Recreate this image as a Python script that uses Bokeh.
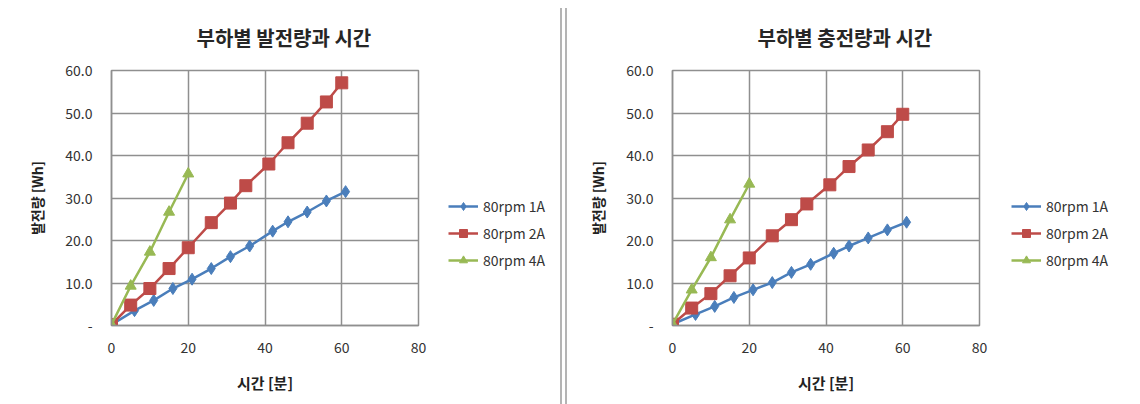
from bokeh.plotting import figure
from bokeh.models import (Range1d, FixedTicker, NumeralTickFormatter, Legend, LegendItem,
                          Title, Div)
from bokeh.layouts import row
from bokeh.embed import file_html
from bokeh.resources import INLINE

# ---------------- data ----------------
x_ticks = [0, 20, 40, 60, 80]
y_ticks = [0, 10, 20, 30, 40, 50, 60]
series_names = ["80rpm 1A", "80rpm 2A", "80rpm 4A"]

t_1a = [0, 6, 11, 16, 21, 26, 31, 36, 42, 46, 51, 56, 61]
t_2a = [0, 5, 10, 15, 20, 26, 31, 35, 41, 46, 51, 56, 60]
t_4a = [0, 5, 10, 15, 20]

gen_1a = [0.2, 3.5, 5.9, 8.7, 10.9, 13.4, 16.2, 18.7, 22.2, 24.4, 26.7, 29.3, 31.5]
gen_2a = [0.2, 4.8, 8.7, 13.4, 18.3, 24.2, 28.8, 32.9, 38.0, 43.0, 47.6, 52.6, 57.1]
gen_4a = [0.2, 9.3, 17.3, 26.7, 35.7]

chg_1a = [0.3, 2.6, 4.5, 6.6, 8.4, 10.1, 12.5, 14.4, 17.0, 18.7, 20.6, 22.5, 24.3]
chg_2a = [0.3, 4.1, 7.5, 11.7, 15.9, 21.1, 24.9, 28.6, 33.1, 37.4, 41.3, 45.6, 49.7]
chg_4a = [0.3, 8.4, 16.0, 24.9, 33.3]

title_left = "부하별 발전량과 시간"
title_right = "부하별 충전량과 시간"
x_label = "시간 [분]"
y_label = "발전량 [Wh]"

FONT = "Noto Sans CJK KR"
GRID = "#8f8f8f"
TXT = "#333333"
COLORS = ["#4a7ebb", "#be4b48", "#98b954"]
MARKERS = [("diamond", 12), ("square", 12), ("triangle", 11)]


def make_chart(title, ts, ys, width, bl, br):
    p = figure(width=width, height=404, output_backend="svg", toolbar_location=None,
               x_range=Range1d(0, 80), y_range=Range1d(0, 60),
               min_border_left=bl, min_border_right=br,
               min_border_top=70, min_border_bottom=79)
    p.background_fill_color = "white"
    p.border_fill_color = "white"
    p.outline_line_color = GRID
    p.outline_line_width = 1.5

    t = Title(text=title, align="left", offset=85, standoff=37,
              text_font=FONT, text_font_size="20px", text_font_style="bold",
              text_color="#262626")
    p.add_layout(t, "above")

    for ax in (p.xaxis[0], p.yaxis[0]):
        ax.axis_line_color = GRID
        ax.axis_line_width = 1.5
        ax.major_tick_line_color = None
        ax.minor_tick_line_color = None
        ax.major_tick_out = 0
        ax.major_tick_in = 0
        ax.major_label_text_font = FONT
        ax.major_label_text_font_size = "14px"
        ax.major_label_text_color = TXT
        ax.axis_label_text_font = FONT
        ax.axis_label_text_font_style = "bold"
        ax.axis_label_text_color = "#222222"
    p.xaxis.axis_label_text_font_size = "15px"
    p.yaxis.axis_label_text_font_size = "14px"

    p.xaxis.ticker = FixedTicker(ticks=x_ticks)
    p.yaxis.ticker = FixedTicker(ticks=y_ticks)
    p.yaxis.formatter = NumeralTickFormatter(format="0.0")
    p.yaxis.major_label_overrides = {0: "-"}
    p.xaxis.axis_label = x_label
    p.yaxis.axis_label = y_label
    p.xaxis.major_label_standoff = 16
    p.xaxis.axis_label_standoff = 16
    p.yaxis.major_label_standoff = 19
    p.yaxis.axis_label_standoff = 15

    p.xgrid.ticker = FixedTicker(ticks=x_ticks)
    p.ygrid.ticker = FixedTicker(ticks=y_ticks)
    p.grid.grid_line_color = GRID
    p.grid.grid_line_width = 1.5

    for xs, yv, col, (mk, sz) in zip(ts, ys, COLORS, MARKERS):
        p.line(xs, yv, line_color=col, line_width=2.5)
        p.scatter(xs, yv, marker=mk, size=sz, fill_color=col, line_color=col)
    return p


def make_legend(ts, ys, width, lx):
    # legend-only panel: the series are drawn out of view, only the legend shows
    q = figure(width=width, height=404, output_backend="svg", toolbar_location=None,
               x_range=Range1d(-300, -200), y_range=Range1d(-300, -200),
               min_border=0, x_axis_type=None, y_axis_type=None)
    q.outline_line_color = None
    q.grid.visible = False
    q.background_fill_color = "white"
    q.border_fill_color = "white"
    items = []
    for name, xs, yv, col, (mk, sz) in zip(series_names, ts, ys, COLORS, MARKERS):
        ln = q.line(xs, yv, line_color=col, line_width=2.5)
        sc = q.scatter(xs, yv, marker=mk, size=sz, fill_color=col, line_color=col)
        items.append(LegendItem(label=name, renderers=[ln, sc], index=0))
    lg = Legend(items=items, location=(lx, 55), border_line_color=None,
                background_fill_alpha=0, padding=0, margin=0,
                glyph_width=30, glyph_height=20, spacing=7, label_standoff=5,
                label_text_font=FONT, label_text_font_size="14px",
                label_text_color=TXT)
    q.add_layout(lg)
    return q


ts = [t_1a, t_2a, t_4a]
p1 = make_chart(title_left, ts, [gen_1a, gen_2a, gen_4a], 430, 111, 12)
l1 = make_legend(ts, [gen_1a, gen_2a, gen_4a], 130, 18)
p2 = make_chart(title_right, ts, [chg_1a, chg_2a, chg_4a], 424, 105, 12)
l2 = make_legend(ts, [chg_1a, chg_2a, chg_4a], 149, 20)

sep = Div(text="", width=7, height=396, margin=(8, 0, 0, 0),
          styles={"border-left": "2px solid #b4b4b4", "border-right": "2px solid #b4b4b4",
                  "box-sizing": "border-box"})

layout = row(p1, l1, sep, p2, l2)
open("out.html", "w").write(file_html(layout, INLINE))
